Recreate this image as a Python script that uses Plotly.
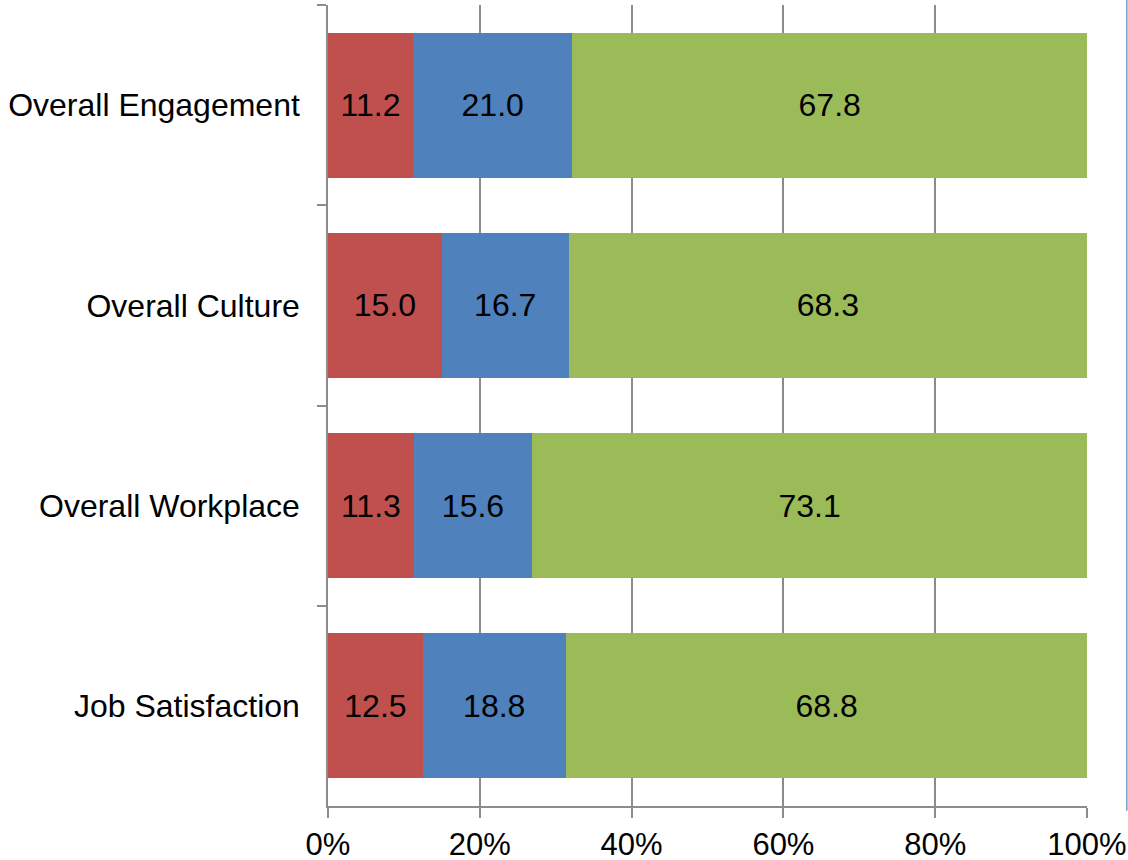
import plotly.graph_objects as go

categories = ["Overall Engagement", "Overall Culture", "Overall Workplace", "Job Satisfaction"]
red_vals = [11.2, 15.0, 11.3, 12.5]
blue_vals = [21.0, 16.7, 15.6, 18.8]
green_vals = [67.8, 68.3, 73.1, 68.8]
x_ticks = [0, 20, 40, 60, 80, 100]
x_tick_labels = ["0%", "20%", "40%", "60%", "80%", "100%"]

colors = ["#C0504D", "#4F81BD", "#9BBB59"]
FONT = "Liberation Sans, Arial, sans-serif"
FS = 32

fig = go.Figure()
for vals, col in zip([red_vals, blue_vals, green_vals], colors):
    fig.add_trace(go.Bar(
        y=categories, x=vals, orientation="h",
        marker=dict(color=col, line=dict(width=0)),
        text=[f"{v:.1f}" for v in vals],
        textposition="inside", insidetextanchor="middle",
        textfont=dict(color="black", size=FS, family=FONT),
        showlegend=False,
    ))

fig.update_layout(
    barmode="stack", bargap=0.275,
    width=1128, height=860,
    margin=dict(l=328, r=41, t=5, b=54, autoexpand=False),
    paper_bgcolor="white", plot_bgcolor="white",
    font=dict(family=FONT, size=FS, color="black"),
    uniformtext=dict(mode=False),
)
fig.update_xaxes(
    range=[0, 100], tickvals=x_ticks, ticktext=x_tick_labels,
    showgrid=True, gridcolor="#8C8C8C", gridwidth=1.5,
    showline=True, linecolor="#8C8C8C", linewidth=1.5,
    ticks="outside", ticklen=10, tickcolor="#8C8C8C", tickwidth=1.5,
    tickfont=dict(size=31, color="black", family=FONT),
    zeroline=False, automargin=False, ticklabelstandoff=0,
)
fig.update_yaxes(
    categoryorder="array", categoryarray=categories, autorange="reversed",
    tickson="boundaries", ticks="outside", ticklen=9, tickcolor="#8C8C8C", tickwidth=1.5,
    showline=True, linecolor="#8C8C8C", linewidth=1.5,
    showgrid=False, ticklabelstandoff=20, automargin=False,
    tickfont=dict(size=FS, color="black", family=FONT),
)
fig.add_shape(type="line", xref="paper", yref="paper",
              x0=1.0525, x1=1.0525, y0=-0.006, y1=1.007,
              line=dict(color="#6F9BD1", width=1.5))

fig.write_html("out.html",
               config={"displayModeBar": False},
               post_script="document.body.style.margin='0';document.body.style.padding='0';")
